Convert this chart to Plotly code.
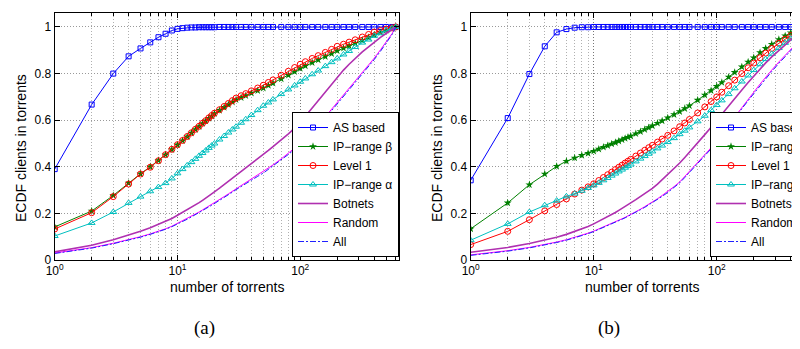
import plotly.graph_objects as go

# ---------------- data ----------------
x_vals = [1, 2, 3, 4, 5, 6, 7, 8, 9, 10, 11, 12, 13, 14, 15, 16, 17, 18, 19, 20,
          22, 24, 26, 28, 30, 33, 36, 40, 45, 50, 55, 60, 70, 80, 90, 100,
          110, 125, 140, 160, 180, 200, 225, 250, 280, 320, 360, 400,
          450, 500, 560, 600]

series_names = ["AS based", "IP\u2212range \u03b2", "Level 1", "IP\u2212range \u03b1",
                "Botnets", "Random", "All"]

# panel (a)
as_a = [0.390, 0.667, 0.800, 0.874, 0.908, 0.934, 0.956, 0.971, 0.985, 0.992,
        0.995, 0.997, 0.998, 0.998, 0.999, 0.999, 0.999, 0.999, 0.999, 0.999,
        1.000, 1.000, 1.000, 1.000, 1.000, 1.000, 1.000, 1.000, 1.000, 1.000,
        1.000, 1.000, 1.000, 1.000, 1.000, 1.000, 1.000, 1.000, 1.000, 1.000,
        1.000, 1.000, 1.000, 1.000, 1.000, 1.000, 1.000, 1.000, 1.000, 1.000,
        1.000, 1.000]
ipb_a = [0.142, 0.210, 0.277, 0.330, 0.370, 0.400, 0.427, 0.452, 0.474, 0.494,
         0.512, 0.529, 0.545, 0.560, 0.573, 0.586, 0.597, 0.608, 0.618, 0.628,
         0.642, 0.655, 0.667, 0.678, 0.688, 0.697, 0.705, 0.716, 0.727, 0.738,
         0.749, 0.759, 0.777, 0.793, 0.808, 0.822, 0.833, 0.847, 0.859, 0.873,
         0.886, 0.898, 0.909, 0.919, 0.930, 0.943, 0.955, 0.966, 0.977, 0.986,
         0.994, 1.000]
l1_a = [0.133, 0.203, 0.272, 0.326, 0.369, 0.398, 0.426, 0.452, 0.475, 0.495,
        0.513, 0.530, 0.546, 0.561, 0.574, 0.587, 0.598, 0.610, 0.620, 0.630,
        0.645, 0.659, 0.672, 0.684, 0.695, 0.705, 0.714, 0.726, 0.738, 0.750,
        0.762, 0.773, 0.793, 0.810, 0.826, 0.840, 0.851, 0.865, 0.877, 0.891,
        0.904, 0.917, 0.926, 0.935, 0.945, 0.957, 0.968, 0.978, 0.985, 0.991,
        0.996, 1.000]
ipa_a = [0.103, 0.159, 0.206, 0.245, 0.272, 0.295, 0.313, 0.330, 0.350, 0.372,
         0.390, 0.406, 0.420, 0.434, 0.447, 0.459, 0.470, 0.481, 0.491, 0.500,
         0.517, 0.532, 0.547, 0.560, 0.572, 0.589, 0.604, 0.622, 0.643, 0.662,
         0.676, 0.689, 0.712, 0.732, 0.749, 0.765, 0.779, 0.797, 0.813, 0.832,
         0.849, 0.865, 0.882, 0.897, 0.914, 0.933, 0.946, 0.962, 0.973, 0.985,
         0.995, 1.000]
bot_a = [0.035, 0.063, 0.087, 0.106, 0.123, 0.138, 0.152, 0.165, 0.178, 0.192,
         0.204, 0.215, 0.226, 0.236, 0.246, 0.256, 0.265, 0.274, 0.283, 0.292,
         0.308, 0.323, 0.337, 0.350, 0.362, 0.379, 0.394, 0.413, 0.434, 0.453,
         0.470, 0.487, 0.515, 0.541, 0.566, 0.590, 0.617, 0.653, 0.685, 0.723,
         0.756, 0.785, 0.815, 0.840, 0.866, 0.893, 0.915, 0.935, 0.955, 0.972,
         0.988, 1.000]
rnd_a = [0.030, 0.053, 0.072, 0.087, 0.100, 0.112, 0.123, 0.134, 0.145, 0.157,
         0.168, 0.178, 0.188, 0.197, 0.206, 0.215, 0.223, 0.231, 0.238, 0.245,
         0.259, 0.272, 0.284, 0.295, 0.306, 0.320, 0.333, 0.348, 0.364, 0.378,
         0.394, 0.408, 0.434, 0.458, 0.480, 0.500, 0.522, 0.552, 0.580, 0.615,
         0.647, 0.676, 0.708, 0.736, 0.767, 0.803, 0.835, 0.866, 0.902, 0.936,
         0.972, 1.000]
all_a = [0.028, 0.051, 0.070, 0.085, 0.098, 0.110, 0.121, 0.132, 0.143, 0.154,
         0.165, 0.175, 0.185, 0.194, 0.203, 0.212, 0.220, 0.228, 0.235, 0.242,
         0.256, 0.268, 0.280, 0.291, 0.302, 0.316, 0.329, 0.344, 0.359, 0.373,
         0.389, 0.403, 0.429, 0.453, 0.475, 0.495, 0.517, 0.546, 0.574, 0.609,
         0.641, 0.670, 0.702, 0.730, 0.761, 0.797, 0.829, 0.860, 0.896, 0.930,
         0.968, 1.000]

# panel (b)
as_b = [0.342, 0.609, 0.798, 0.917, 0.977, 0.991, 0.997, 0.999, 0.999, 1.000,
        1.000, 1.000, 1.000, 1.000, 1.000, 1.000, 1.000, 1.000, 1.000, 1.000,
        1.000, 1.000, 1.000, 1.000, 1.000, 1.000, 1.000, 1.000, 1.000, 1.000,
        1.000, 1.000, 1.000, 1.000, 1.000, 1.000, 1.000, 1.000, 1.000, 1.000,
        1.000, 1.000, 1.000, 1.000, 1.000, 1.000, 1.000, 1.000, 1.000, 1.000,
        1.000, 1.000]
ipb_b = [0.134, 0.245, 0.323, 0.369, 0.402, 0.424, 0.438, 0.449, 0.458, 0.467,
         0.476, 0.484, 0.491, 0.498, 0.504, 0.510, 0.516, 0.522, 0.527, 0.532,
         0.542, 0.551, 0.560, 0.568, 0.576, 0.587, 0.597, 0.610, 0.624, 0.637,
         0.650, 0.662, 0.686, 0.708, 0.727, 0.745, 0.762, 0.785, 0.805, 0.829,
         0.850, 0.868, 0.890, 0.908, 0.926, 0.946, 0.962, 0.975, 0.987, 0.995,
         1.000, 1.000]
l1_b = [0.066, 0.123, 0.173, 0.211, 0.238, 0.262, 0.283, 0.300, 0.314, 0.327,
        0.341, 0.354, 0.366, 0.377, 0.388, 0.398, 0.407, 0.416, 0.424, 0.432,
        0.446, 0.459, 0.471, 0.482, 0.492, 0.506, 0.519, 0.535, 0.554, 0.572,
        0.588, 0.603, 0.631, 0.657, 0.680, 0.700, 0.720, 0.748, 0.772, 0.800,
        0.825, 0.845, 0.868, 0.888, 0.908, 0.930, 0.948, 0.963, 0.978, 0.990,
        1.000, 1.000]
ipa_b = [0.085, 0.155, 0.206, 0.235, 0.255, 0.273, 0.285, 0.297, 0.309, 0.320,
         0.331, 0.342, 0.352, 0.362, 0.371, 0.380, 0.388, 0.396, 0.403, 0.410,
         0.423, 0.435, 0.446, 0.456, 0.466, 0.479, 0.491, 0.506, 0.523, 0.540,
         0.555, 0.569, 0.595, 0.619, 0.643, 0.665, 0.685, 0.712, 0.737, 0.766,
         0.792, 0.815, 0.840, 0.862, 0.885, 0.910, 0.932, 0.950, 0.968, 0.984,
         1.000, 1.000]
bot_b = [0.033, 0.054, 0.071, 0.085, 0.098, 0.110, 0.122, 0.133, 0.144, 0.155,
         0.166, 0.176, 0.186, 0.195, 0.204, 0.213, 0.221, 0.229, 0.237, 0.245,
         0.259, 0.272, 0.284, 0.296, 0.307, 0.326, 0.344, 0.366, 0.392, 0.416,
         0.440, 0.462, 0.503, 0.538, 0.570, 0.600, 0.627, 0.662, 0.693, 0.730,
         0.762, 0.790, 0.820, 0.846, 0.872, 0.900, 0.925, 0.945, 0.963, 0.980,
         0.997, 1.000]
rnd_b = [0.022, 0.040, 0.054, 0.066, 0.077, 0.087, 0.097, 0.106, 0.115, 0.124,
         0.133, 0.141, 0.149, 0.156, 0.163, 0.170, 0.177, 0.183, 0.189, 0.195,
         0.207, 0.218, 0.229, 0.239, 0.249, 0.263, 0.277, 0.294, 0.315, 0.335,
         0.358, 0.380, 0.418, 0.452, 0.482, 0.510, 0.540, 0.580, 0.615, 0.655,
         0.690, 0.720, 0.755, 0.785, 0.815, 0.850, 0.880, 0.905, 0.932, 0.958,
         0.985, 1.000]
all_b = [0.020, 0.038, 0.052, 0.064, 0.075, 0.085, 0.095, 0.104, 0.113, 0.122,
         0.131, 0.139, 0.147, 0.154, 0.161, 0.168, 0.175, 0.181, 0.187, 0.193,
         0.205, 0.216, 0.226, 0.236, 0.246, 0.260, 0.273, 0.290, 0.311, 0.331,
         0.354, 0.375, 0.413, 0.447, 0.477, 0.505, 0.535, 0.574, 0.609, 0.649,
         0.684, 0.714, 0.749, 0.779, 0.809, 0.844, 0.874, 0.900, 0.927, 0.953,
         0.980, 1.000]

major_ticks = [1, 10, 100]
major_text = ["10<sup>0</sup>", "10<sup>1</sup>", "10<sup>2</sup>"]
minor_ticks = [2, 3, 4, 5, 6, 7, 8, 9, 20, 30, 40, 50, 60, 70, 80, 90,
               200, 300, 400, 500, 600]
y_ticks = [0, 0.2, 0.4, 0.6, 0.8, 1]
y_text = ["0", "0.2", "0.4", "0.6", "0.8", "1"]
x_title = "number of torrents"
y_title = "ECDF clients in torrents"
panel_labels = ["(a)", "(b)"]

# ---------------- styles ----------------
styles = [
    dict(mode="lines+markers", line=dict(color="#0000ff", width=1),
         marker=dict(symbol="square-open", size=5, color="#0000ff", line=dict(width=1))),
    dict(mode="lines+markers", line=dict(color="#008000", width=1),
         marker=dict(symbol="star", size=6, color="#008000", line=dict(width=0))),
    dict(mode="lines+markers", line=dict(color="#ff0000", width=1),
         marker=dict(symbol="circle-open", size=6, color="#ff0000", line=dict(width=1))),
    dict(mode="lines+markers", line=dict(color="#00bfbf", width=1),
         marker=dict(symbol="triangle-up-open", size=6, color="#00bfbf", line=dict(width=1))),
    dict(mode="lines", line=dict(color="#b030b0", width=1.6)),
    dict(mode="lines", line=dict(color="#ff00ff", width=1)),
    dict(mode="lines", line=dict(color="#2020ff", width=1, dash="6px,2px,2px,2px")),
]

fig = go.Figure()
panels = [
    ([as_a, ipb_a, l1_a, ipa_a, bot_a, rnd_a, all_a], "x", "y", "legend"),
    ([as_b, ipb_b, l1_b, ipa_b, bot_b, rnd_b, all_b], "x2", "y2", "legend2"),
]
for data, xa, ya, lg in panels:
    for name, yv, st in zip(series_names, data, styles):
        fig.add_trace(go.Scatter(x=x_vals, y=yv, name=name, xaxis=xa, yaxis=ya,
                                 legend=lg, **st))

W, H = 800, 349
top_px, bot_px = 5, 252
ydom = [(H - bot_px) / H, (H - top_px) / H]
dot = "1px,2px"

def xaxis_style(dom, rng, anchor):
    return dict(type="log", domain=dom, range=rng, anchor=anchor,
                tickvals=major_ticks, ticktext=major_text,
                ticks="inside", ticklen=5, tickcolor="black",
                showline=True, linecolor="black", linewidth=1, mirror="allticks",
                showgrid=True, gridcolor="#777777", griddash=dot, gridwidth=1,
                zeroline=False, tickfont=dict(size=12, color="black"),
                minor=dict(tickvals=minor_ticks, ticks="inside", ticklen=3,
                           tickcolor="black", showgrid=True,
                           gridcolor="#b0b0b0", griddash=dot, gridwidth=1))

def yaxis_style(anchor, mirror):
    return dict(domain=ydom, range=[0, 1.06], anchor=anchor,
                tickvals=y_ticks, ticktext=y_text,
                ticks="inside", ticklen=5, tickcolor="black",
                showline=True, linecolor="black", linewidth=1, mirror=mirror,
                showgrid=True, gridcolor="#999999", griddash=dot, gridwidth=1,
                zeroline=False, tickfont=dict(size=12, color="black"))

legend_style = dict(xanchor="left", yanchor="top", y=(H - 104) / H,
                    bordercolor="black", borderwidth=1, bgcolor="white",
                    font=dict(size=12, color="black"), itemwidth=30,
                    tracegroupgap=0)

fig.update_layout(
    width=W, height=H,
    margin=dict(l=0, r=0, t=0, b=0, autoexpand=False),
    paper_bgcolor="white", plot_bgcolor="white",
    font=dict(family="Liberation Sans, Arial, sans-serif", size=12, color="black"),
    xaxis=xaxis_style([46.7 / W, 390.5 / W], [0, 2.8], "y"),
    yaxis=yaxis_style("x", "allticks"),
    xaxis2=xaxis_style([462.7 / W, 1.0], [0, 2.742], "y2"),
    yaxis2=yaxis_style("x2", False),
    legend=dict(x=284 / W, **legend_style),
    legend2=dict(x=702 / W, **legend_style),
)

ann = []
for cx in [218.6, 634.0]:
    ann.append(dict(text=x_title, x=cx / W, y=(H - 279) / H, xref="paper", yref="paper",
                    showarrow=False, xanchor="center", yanchor="middle",
                    font=dict(size=14, color="black")))
for cx in [13, 429]:
    ann.append(dict(text=y_title, x=cx / W, y=(H - 140) / H, xref="paper", yref="paper",
                    showarrow=False, xanchor="center", yanchor="middle", textangle=-90,
                    font=dict(size=14, color="black")))
for cx, lab in zip([196, 601], panel_labels):
    ann.append(dict(text=lab, x=cx / W, y=(H - 320) / H, xref="paper", yref="paper",
                    showarrow=False, xanchor="center", yanchor="middle",
                    font=dict(size=19, color="black",
                              family="Liberation Serif, Times New Roman, serif")))
fig.update_layout(annotations=ann)

fig.write_html("out.html")
